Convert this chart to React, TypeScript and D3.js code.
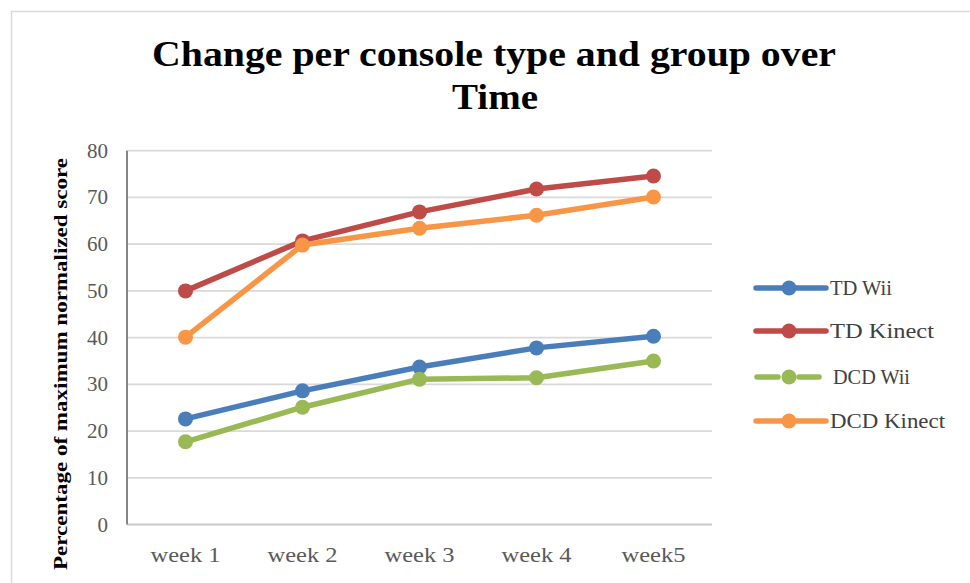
import React from "react";
import * as d3 from "d3";

const categories = ["week 1", "week 2", "week 3", "week 4", "week5"];
const seriesNames = ["TD Wii", "TD Kinect", "DCD Wii", "DCD Kinect"];
const tdWii = [22.6, 28.6, 33.7, 37.8, 40.3];
const tdKinect = [50.0, 60.7, 66.9, 71.8, 74.6];
const dcdWii = [17.7, 25.1, 31.1, 31.4, 35.0];
const dcdKinect = [40.1, 59.8, 63.4, 66.2, 70.1];
const yTicks = [0, 10, 20, 30, 40, 50, 60, 70, 80];
const colors = ["#4a7ebb", "#be4b48", "#98b954", "#f79646"];

const W = 970;
const H = 583;
const plot = { left: 127, right: 712, top: 150.7, bottom: 524.5 };

export default function App() {
  const allSeries = [tdWii, tdKinect, dcdWii, dcdKinect];
  const x = d3
    .scaleBand<string>()
    .domain(categories)
    .range([plot.left, plot.right]);
  const y = d3.scaleLinear().domain([0, 80]).range([plot.bottom, plot.top]);
  const cx = (c: string) => (x(c) as number) + x.bandwidth() / 2;
  const line = d3
    .line<number>()
    .x((_, i) => cx(categories[i]))
    .y((d) => y(d));
  const serif = "'Liberation Serif', 'DejaVu Serif', serif";
  const legendY = [288, 331, 377, 421];
  const legendW = [62, 104, 77, 115];

  return (
    <svg
      width={W}
      height={H}
      style={{ position: "absolute", left: 0, top: 0, background: "#fff" }}
    >
      <rect x={0} y={0} width={W} height={H} fill="#fff" />
      <rect
        x={11.5}
        y={11.5}
        width={W + 20}
        height={H + 20}
        fill="none"
        stroke="#d9d9d9"
        strokeWidth={1.5}
      />
      <text
        x={494}
        y={66}
        textAnchor="middle"
        fontFamily={serif}
        fontWeight="bold"
        fontSize={36}
        fill="#000"
        textLength={684}
        lengthAdjust="spacingAndGlyphs"
      >
        Change per console type and group over
      </text>
      <text
        x={495}
        y={109}
        textAnchor="middle"
        fontFamily={serif}
        fontWeight="bold"
        fontSize={36}
        fill="#000"
        textLength={86}
        lengthAdjust="spacingAndGlyphs"
      >
        Time
      </text>
      {yTicks.map((t) => (
        <g key={t}>
          {t > 0 && (
            <line
              x1={plot.left}
              x2={plot.right}
              y1={y(t)}
              y2={y(t)}
              stroke="#d9d9d9"
              strokeWidth={1.8}
            />
          )}
          <text
            x={108}
            y={y(t) + 7}
            textAnchor="end"
            fontFamily={serif}
            fontSize={21}
            fill="#595959"
          >
            {t}
          </text>
        </g>
      ))}
      <line
        x1={plot.left}
        x2={plot.right}
        y1={y(0)}
        y2={y(0)}
        stroke="#c8c8c8"
        strokeWidth={1.8}
      />
      <line
        x1={plot.left}
        x2={plot.left}
        y1={plot.top}
        y2={plot.bottom}
        stroke="#868686"
        strokeWidth={2}
      />
      {categories.map((c) => (
        <text
          key={c}
          x={cx(c)}
          y={562}
          textAnchor="middle"
          fontFamily={serif}
          fontSize={21}
          fill="#595959"
          textLength={c === "week5" ? 64 : 70}
          lengthAdjust="spacingAndGlyphs"
        >
          {c}
        </text>
      ))}
      <text
        transform={`translate(67,364) rotate(-90)`}
        textAnchor="middle"
        fontFamily={serif}
        fontWeight="bold"
        fontSize={19}
        fill="#000"
        textLength={412}
        lengthAdjust="spacingAndGlyphs"
      >
        Percentage of maximum normalized score
      </text>
      {allSeries.map((s, si) => (
        <g key={si}>
          <path
            d={line(s) as string}
            fill="none"
            stroke={colors[si]}
            strokeWidth={5.5}
            strokeLinejoin="round"
            strokeLinecap="round"
          />
          {s.map((v, i) => (
            <circle
              key={i}
              cx={cx(categories[i])}
              cy={y(v)}
              r={7.5}
              fill={colors[si]}
            />
          ))}
        </g>
      ))}
      {seriesNames.map((n, si) => (
        <g key={n}>
          {si === 2 ? (
            <>
              <line
                x1={757}
                x2={778}
                y1={legendY[si]}
                y2={legendY[si]}
                stroke={colors[si]}
                strokeWidth={5.5}
                strokeLinecap="round"
              />
              <line
                x1={799}
                x2={819}
                y1={legendY[si]}
                y2={legendY[si]}
                stroke={colors[si]}
                strokeWidth={5.5}
                strokeLinecap="round"
              />
            </>
          ) : (
            <line
              x1={756}
              x2={826}
              y1={legendY[si]}
              y2={legendY[si]}
              stroke={colors[si]}
              strokeWidth={5.5}
              strokeLinecap="round"
            />
          )}
          <circle cx={789} cy={legendY[si]} r={7.5} fill={colors[si]} />
          <text
            x={si === 2 ? 833 : 830}
            y={legendY[si] + 7}
            fontFamily={serif}
            fontSize={21}
            fill="#404040"
            textLength={legendW[si]}
            lengthAdjust="spacingAndGlyphs"
          >
            {n}
          </text>
        </g>
      ))}
    </svg>
  );
}
